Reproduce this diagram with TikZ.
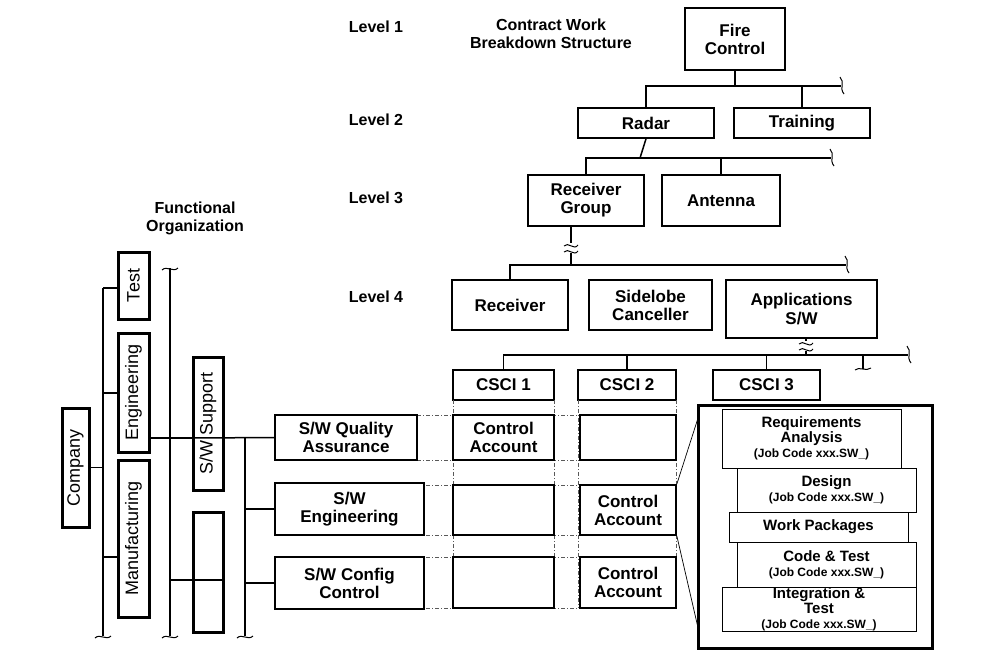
\documentclass[tikz,border=0pt]{standalone}
\usepackage{fontspec}
\setmainfont{Liberation Sans}
\begin{document}
\begin{tikzpicture}[x=1pt,y=-1pt,
  box/.style={draw,line width=1.6pt,fill=white,align=center,font=\bfseries\fontsize{17}{18}\selectfont,inner sep=0pt},
  tbox/.style={draw,line width=3pt,fill=white,inner sep=0pt,font=\fontsize{18}{19}\selectfont},
  sbox/.style={draw,line width=1pt,fill=white,align=center,font=\bfseries\fontsize{15}{15}\selectfont,inner sep=0pt},
  lbl/.style={font=\bfseries\fontsize{16}{18}\selectfont,align=center},
  ln/.style={line width=1.5pt},
  dd/.style={line width=0.6pt,dash pattern=on 4pt off 2pt on 1pt off 2pt,gray!70!black},
  brk/.style={line width=1pt}]
\useasboundingbox (0,0) rectangle (981,657);
\newcommand\bx[7][box]{\node[#1,minimum width={#5-#3},minimum height={#6-#4}] (#2) at ({(#3+#5)/2},{(#4+#6)/2}) {#7};}
\newcommand\vbx[7][tbox]{\node[#1,minimum width={#6-#4},minimum height={#5-#3},rotate=90] (#2) at ({(#3+#5)/2},{(#4+#6)/2}) {#7};}
% break mark at end of horizontal line
\newcommand\hbrk[2]{\draw[brk] (#1-2,#2-9) .. controls (#1+3,#2-4) and (#1-3,#2+2) .. (#1+2,#2+8);}
\newcommand\vbrk[2]{\draw[brk] (#1-8,#2+2) .. controls (#1-3,#2-3) and (#1+3,#2+5) .. (#1+8,#2);}
\newcommand\wavy[2]{\draw[brk,fill=white,draw=white] (#1-7,#2-5) rectangle (#1+7,#2+4);
  \draw[brk] (#1-7,#2-2) .. controls (#1-3,#2-7) and (#1+3,#2+3) .. (#1+7,#2-3);
  \draw[brk] (#1-7,#2+4) .. controls (#1-3,#2-1) and (#1+3,#2+9) .. (#1+7,#2+3);}

% labels
\node[lbl] (l1) at (376,27) {Level 1};
\node[lbl] (l2) at (376,120) {Level 2};
\node[lbl] (l3) at (376,198) {Level 3};
\node[lbl] (l4) at (376,297) {Level 4};
\node[lbl] (cwbs) at (551,34) {Contract Work\\Breakdown Structure};
\node[lbl] (fo) at (195,218) {Functional\\Organization};

% WBS
\bx{fc}{685}{8}{785}{70}{Fire\\Control}
\bx{radar}{578}{108}{714}{138}{Radar}
\bx{train}{734}{108}{870}{138}{Training}
\bx{rg}{528}{175}{644}{226}{Receiver\\Group}
\bx{ant}{662}{175}{780}{226}{Antenna}
\bx{rec}{452}{280}{568}{330}{Receiver}
\bx{side}{589}{280}{712}{330}{Sidelobe\\Canceller}
\bx{app}{726}{280}{877}{338}{Applications\\S/W}
\bx{c1}{453}{370}{554}{400}{CSCI 1}
\bx{c2}{578}{370}{676}{400}{CSCI 2}
\bx{c3}{713}{370}{820}{400}{CSCI 3}

\coordinate (j1) at (735,86);
\draw[ln] (fc.south) -- (j1);
\draw[ln] (radar.north) |- (j1) -| (train.north);
\draw[ln] (j1) -- (841,86); \hbrk{842}{86}
\coordinate (j2) at (640,158);
\draw[ln] (radar.south) -- (j2);
\draw[ln] (rg.north) |- (j2) -| (ant.north);
\draw[ln] (j2) -- (831,158); \hbrk{832}{158}
\coordinate (j3) at (571,265);
\draw[ln] (rg.south -| j3) -- (j3);
\wavy{571}{248}
\draw[ln] (rec.north) |- (j3) -- (846,265); \hbrk{847}{265}
\coordinate (j4) at (806,355);
\draw[ln] (app.south -| j4) -- (j4);
\wavy{806}{346}
\draw[ln] (c1.north) |- (j4) -- (908,355); \hbrk{909}{355}
\draw[ln] (c2.north) -- (c2.north |- j4);
\draw[ln] (c3.north) -- (c3.north |- j4);
\coordinate (j5) at (863,355);
\draw[ln] (j5) -- (863,369);
\draw[brk] (855,370) .. controls (859,366) and (866,372) .. (871,368);

% dash-dot grid
\foreach \y in {415,460,485,535,557,608} \draw[dd] (417,\y) -- (676,\y);
\foreach \x in {453,554,578,676} \draw[dd] (\x,400) -- (\x,608);

% functional
\vbx{comp}{62}{408}{89}{527}{Company}
\vbx{test}{118}{252}{149}{319}{Test}
\vbx{eng}{118}{333}{149}{452}{Engineering}
\vbx{man}{118}{460}{149}{617}{Manufacturing}
\vbx{sws}{193}{357}{223}{490}{S/W Support}
\vbx{emp}{193}{512}{223}{632}{}
\bx{sqa}{275}{415}{417}{460}{S/W Quality\\Assurance}
\bx{swe}{275}{483}{424}{535}{S/W\\Engineering}
\bx{cfg}{275}{557}{424}{609}{S/W Config\\Control}

\coordinate (v1t) at (103,288); \coordinate (v1b) at (103,636);
\draw[ln] (comp.south) -- (comp.south -| v1t);
\draw[ln] (v1t) -- (v1b); \vbrk{103}{636}
\draw[ln] (v1t) -- (test.north |- v1t);
\draw[ln] (103,393) -- (eng.north |- 0,393);
\draw[ln] (103,557) -- (man.north |- 0,557);
\coordinate (v2t) at (170,268); \coordinate (v2b) at (170,636);
\draw[ln] (v2t) -- (v2b); \vbrk{170}{636} \vbrk{170}{268}
\draw[ln] (149,438) -- (193,438);
\draw[ln] (170,580) -- (emp.south |- 0,580);
\coordinate (v3t) at (245,438); \coordinate (v3b) at (245,636);
\draw[ln] (v3t) -- (v3b); \vbrk{245}{636}
\draw[ln] (sws.north |- v3t) -- (sqa.west);
\draw[ln] (245,509) -- (swe.west);
\draw[ln] (245,583) -- (cfg.west);

% account grid
\bx{ca1}{453}{415}{554}{460}{Control\\Account}
\bx{e12}{580}{415}{676}{460}{}
\bx{e21}{453}{485}{554}{535}{}
\bx{ca2}{580}{485}{676}{535}{Control\\Account}
\bx{e31}{453}{557}{554}{608}{}
\bx{ca3}{580}{557}{676}{608}{Control\\Account}

% detail box
\node[draw,line width=3pt,minimum width=234,minimum height=243,inner sep=0pt] (big) at (815,526.5) {};
\draw[line width=0.7pt] (ca2.north east) -- (699,415);
\draw[line width=0.7pt] (ca2.south east) -- (699,632);
\bx[sbox]{req}{722}{409}{901}{468}{Requirements\\Analysis\\{\fontsize{12}{13}\selectfont (Job Code xxx.SW\_)}}
\bx[sbox]{des}{737}{468}{916}{512}{Design\\{\fontsize{12}{13}\selectfont (Job Code xxx.SW\_)}}
\bx[sbox]{wp}{729}{512}{908}{542}{Work Packages}
\bx[sbox]{ct}{737}{542}{916}{587}{Code \& Test\\{\fontsize{12}{13}\selectfont (Job Code xxx.SW\_)}}
\bx[sbox]{it}{722}{587}{916}{631}{Integration \&\\Test\\{\fontsize{12}{13}\selectfont (Job Code xxx.SW\_)}}
\end{tikzpicture}
\end{document}
